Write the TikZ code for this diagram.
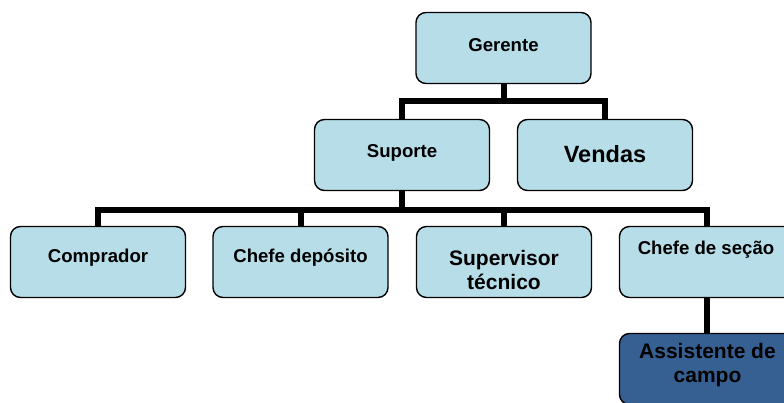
\documentclass[tikz,border=0pt]{standalone}
\usepackage{fontspec}
\setmainfont{Liberation Sans}
\definecolor{boxfill}{HTML}{B7DEE8}
\definecolor{darkfill}{HTML}{366092}
\begin{document}
\begin{tikzpicture}[x=1pt,y=-1pt,
  unit/.style={draw=black, line width=1.4pt, rounded corners=10pt, fill=boxfill,
    minimum width=175pt, minimum height=71pt, inner sep=0pt},
  lbl/.style={font=\bfseries\fontsize{18.6}{22}\selectfont, inner sep=0pt, align=center, anchor=base},
  big/.style={font=\bfseries\fontsize{21}{24}\selectfont, inner sep=0pt, align=center, anchor=base},
  huge/.style={font=\bfseries\fontsize{23.5}{28}\selectfont, inner sep=0pt, anchor=base},
  link/.style={line width=6pt}]
\useasboundingbox (0,0) rectangle (784,403);
\clip (0,0) rectangle (784,403);

% boxes of the chart
\node[unit] (gerente)    at (503.5,48) {};
\node[unit] (suporte)    at (402,155)  {};
\node[unit] (vendas)     at (605,155)  {};
\node[unit] (comprador)  at (98,262)   {};
\node[unit] (deposito)   at (300.5,262) {};
\node[unit] (supervisor) at (504,262)  {};
\node[unit] (secao)      at (707,262)  {};
\node[unit, fill=darkfill] (assistente) at (707,369) {};

% connectors
\draw[link] (gerente.south) -- ++(0,17) -| (suporte.north);
\draw[link] (gerente.south) -- ++(0,17) -| (vendas.north);
\draw[link] (suporte.south) -- ++(0,18.5) -| (comprador.north);
\draw[link] (suporte.south) -- ++(0,18.5) -| (deposito.north);
\draw[link] (suporte.south) -- ++(0,18.5) -| (supervisor.north);
\draw[link] (suporte.south) -- ++(0,18.5) -| (secao.north);
\draw[link] (secao.south) -- (assistente.north);

% labels (multi-line labels sit on the baseline of their last line)
\node[lbl] (tgerente)    at (503.5,52) {Gerente};
\node[lbl] (tsuporte)    at (402,158)  {Suporte};
\node[huge] (tvendas)    at (605,163)  {Vendas};
\node[lbl] (tcomprador)  at (98,263)   {Comprador};
\node[lbl] (tdeposito)   at (300.5,263) {Chefe depósito};
\node[big] (tsupervisor) at (504,289)  {Supervisor\\técnico};
\node[lbl] (tsecao)      at (706,255)  {Chefe de seção};
\node[big] (tassistente) at (707.5,382) {Assistente de\\campo};
\end{tikzpicture}
\end{document}
